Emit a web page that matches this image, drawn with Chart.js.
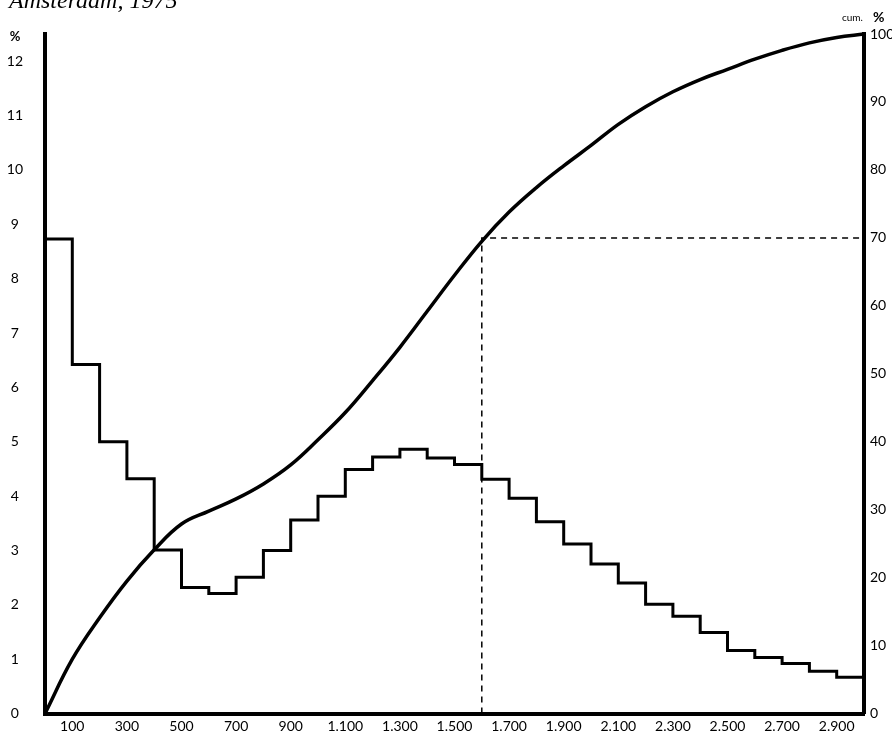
<!DOCTYPE html>
<html>
<head>
<meta charset="utf-8">
<script src="https://cdn.jsdelivr.net/npm/chart.js@4/dist/chart.umd.min.js"></script>
<style>
  html, body { margin: 0; padding: 0; background: #fff; overflow: hidden; width: 892px; height: 744px; }
  #wrap { position: absolute; left: 0; top: 0; width: 920px; height: 744px; }
</style>
</head>
<body>
<div id="wrap"><canvas id="c" width="920" height="744"></canvas></div>
<script>
// Bin edges (income classes, width 100)
const binEdges = [0,100,200,300,400,500,600,700,800,900,1000,1100,1200,1300,1400,1500,1600,1700,1800,1900,2000,2100,2200,2300,2400,2500,2600,2700,2800,2900,3000];
// Percentage per class (left axis)
const histPct = [8.73,6.42,5.00,4.32,3.01,2.32,2.21,2.51,3.00,3.56,4.00,4.49,4.72,4.86,4.70,4.58,4.31,3.96,3.53,3.12,2.75,2.40,2.01,1.79,1.49,1.16,1.03,0.92,0.78,0.67];
// Cumulative percentage at each bin edge (right axis)
const cumPct = [0,8.0,14.1,19.5,24.1,27.9,29.8,31.6,33.8,36.6,40.3,44.3,49.0,53.9,59.2,64.5,69.5,73.8,77.4,80.6,83.6,86.7,89.3,91.5,93.3,94.8,96.3,97.6,98.7,99.5,100];
// Reference (dashed) lines: 70% cumulative at 1600
const refX = [1600,1600,3000];
const refY = [0,70,70];
// Tick values and labels
const xTickValues = [100,300,500,700,900,1100,1300,1500,1700,1900,2100,2300,2500,2700,2900];
const xTickLabels = ['100','300','500','700','900','1.100','1.300','1.500','1.700','1.900','2.100','2.300','2.500','2.700','2.900'];
const leftTicks = [0,1,2,3,4,5,6,7,8,9,10,11,12];
const rightTicks = [0,10,20,30,40,50,60,70,80,90,100];

// Step points: bin value held from its left edge to its right edge
const histData = binEdges.map((x, i) => ({ x: x, y: histPct[Math.min(i, histPct.length - 1)] }));
const cumData = binEdges.map((x, i) => ({ x: x, y: cumPct[i] }));
const refData = refX.map((x, i) => ({ x: x, y: refY[i] }));

const FONT = 'Lato, "DejaVu Sans", sans-serif';

const textPlugin = {
  id: 'extraText',
  afterDraw(chart) {
    const ctx = chart.ctx;
    ctx.save();
    ctx.fillStyle = '#000';
    ctx.textBaseline = 'alphabetic';
    ctx.font = 'italic 24px "Liberation Serif", "DejaVu Serif", serif';
    ctx.textAlign = 'left';
    ctx.fillText('Amsterdam, 1975', 9, 8);
    ctx.font = 'bold 13px ' + FONT;
    ctx.textAlign = 'center';
    ctx.fillText('%', 15, 41);
    ctx.font = '10px ' + FONT;
    ctx.textAlign = 'left';
    ctx.fillText('cum.', 842, 21);
    ctx.font = 'bold 14px ' + FONT;
    ctx.fillText('%', 873, 22);
    ctx.restore();
  }
};

new Chart(document.getElementById('c'), {
  type: 'line',
  data: {
    datasets: [
      {
        label: 'pct',
        data: histData,
        yAxisID: 'yL',
        stepped: 'before',
        borderColor: '#000',
        borderWidth: 3,
        pointRadius: 0,
        fill: false,
        clip: false
      },
      {
        label: 'cum',
        data: cumData,
        yAxisID: 'yR',
        tension: 0.4,
        borderColor: '#000',
        borderWidth: 3.5,
        pointRadius: 0,
        fill: false,
        clip: false
      },
      {
        label: 'ref',
        data: refData,
        yAxisID: 'yR',
        borderColor: '#000',
        borderWidth: 1.5,
        borderDash: [6, 5],
        pointRadius: 0,
        fill: false,
        tension: 0
      }
    ]
  },
  options: {
    responsive: false,
    animation: false,
    events: [],
    layout: { padding: { top: 34, left: 0, right: 0, bottom: 0 } },
    plugins: { legend: { display: false }, tooltip: { enabled: false }, title: { display: false } },
    scales: {
      x: {
        type: 'linear',
        min: 0,
        max: 3000,
        grid: { display: false, drawTicks: false },
        border: { display: true, color: '#000', width: 4 },
        afterBuildTicks: (s) => { s.ticks = xTickValues.map(v => ({ value: v })); },
        afterFit: (s) => { s.height = 21; },
        ticks: {
          autoSkip: false,
          maxRotation: 0,
          padding: 4,
          color: '#000',
          font: { family: FONT, size: 14 },
          callback: (v) => { const i = xTickValues.indexOf(v); return i >= 0 ? xTickLabels[i] : ''; }
        }
      },
      yL: {
        type: 'linear',
        position: 'left',
        min: 0,
        max: 12.5,
        grid: { display: false, drawTicks: false },
        border: { display: true, color: '#000', width: 4 },
        afterBuildTicks: (s) => { s.ticks = leftTicks.map(v => ({ value: v })); },
        afterFit: (s) => { s.width = 45; },
        ticks: {
          crossAlign: 'center',
          padding: 22,
          color: '#000',
          font: { family: FONT, size: 14 }
        }
      },
      yR: {
        type: 'linear',
        position: 'right',
        min: 0,
        max: 100,
        grid: { display: false, drawTicks: false },
        border: { display: true, color: '#000', width: 4 },
        afterBuildTicks: (s) => { s.ticks = rightTicks.map(v => ({ value: v })); },
        afterFit: (s) => { s.width = 56; },
        ticks: {
          padding: 6,
          color: '#000',
          font: { family: FONT, size: 14 }
        }
      }
    }
  },
  plugins: [textPlugin]
});
</script>
</body>
</html>
